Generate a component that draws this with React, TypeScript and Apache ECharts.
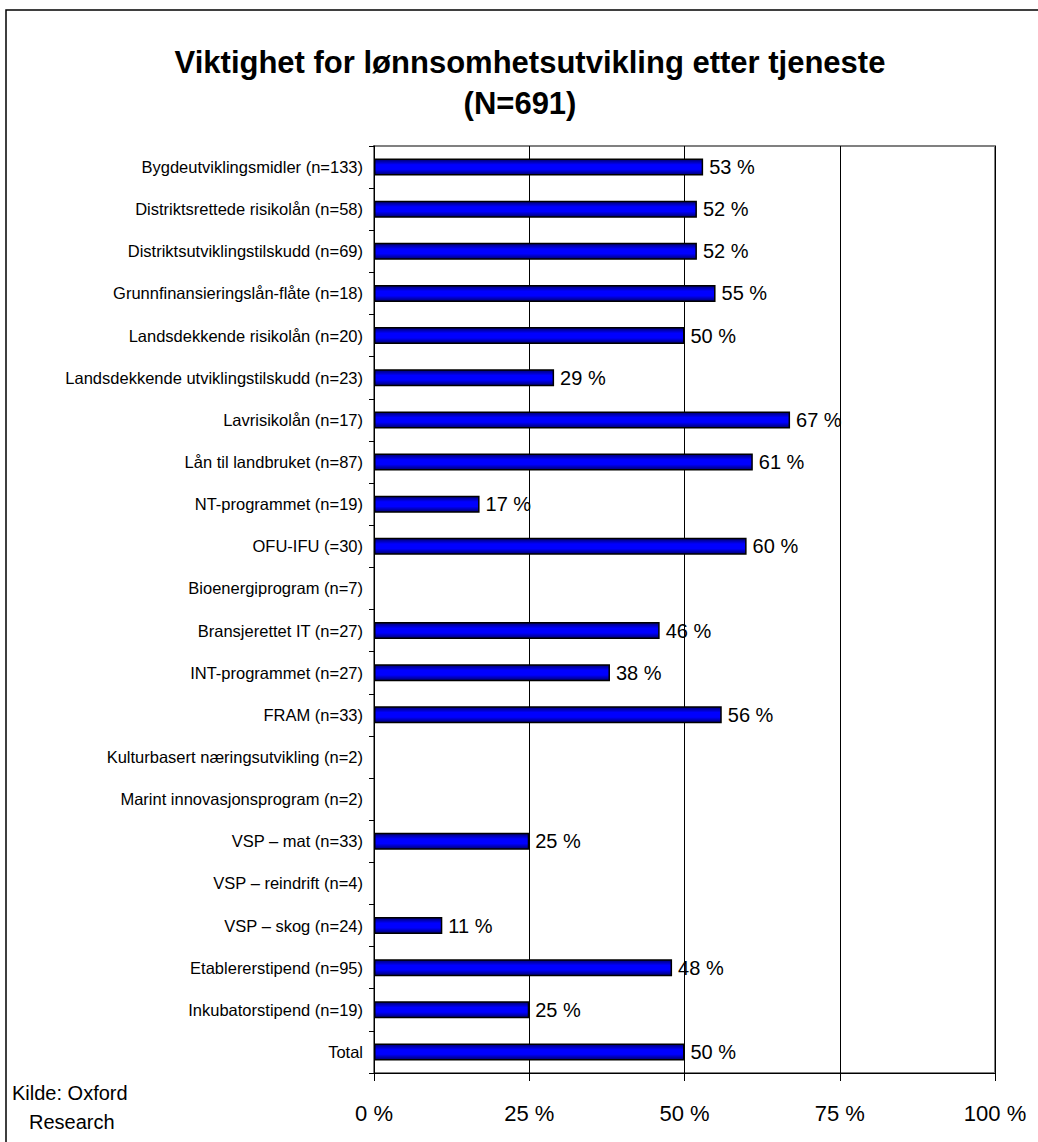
import React, { useEffect, useRef } from "react";
import * as echarts from "echarts";

const titleLines = ["Viktighet for lønnsomhetsutvikling etter tjeneste", "(N=691)"];
const sourceNote = ["Kilde: Oxford", "Research"];

const categories = [
  "Bygdeutviklingsmidler (n=133)",
  "Distriktsrettede risikolån (n=58)",
  "Distriktsutviklingstilskudd (n=69)",
  "Grunnfinansieringslån-flåte (n=18)",
  "Landsdekkende risikolån (n=20)",
  "Landsdekkende utviklingstilskudd (n=23)",
  "Lavrisikolån (n=17)",
  "Lån til landbruket (n=87)",
  "NT-programmet (n=19)",
  "OFU-IFU (=30)",
  "Bioenergiprogram (n=7)",
  "Bransjerettet IT (n=27)",
  "INT-programmet (n=27)",
  "FRAM (n=33)",
  "Kulturbasert næringsutvikling (n=2)",
  "Marint innovasjonsprogram (n=2)",
  "VSP – mat (n=33)",
  "VSP – reindrift (n=4)",
  "VSP – skog (n=24)",
  "Etablererstipend (n=95)",
  "Inkubatorstipend (n=19)",
  "Total",
];

const values: (number | null)[] = [
  53, 52, 52, 55, 50, 29, 67, 61, 17, 60, null, 46, 38, 56, null, null, 25, null, 11, 48, 25, 50,
];

const xTicks = [0, 25, 50, 75, 100];

export default function App() {
  const ref = useRef<HTMLDivElement>(null);
  useEffect(() => {
    if (!ref.current) return;
    const chart = echarts.init(ref.current, null, { renderer: "svg" });
    const font = "'Liberation Sans', Arial, sans-serif";
    chart.setOption({
      animation: false,
      backgroundColor: "#ffffff",
      textStyle: { fontFamily: font },
      grid: {
        left: 374,
        top: 146,
        width: 621,
        height: 927,
        show: true,
        borderColor: "#808080",
        borderWidth: 2,
        backgroundColor: "transparent",
      },
      xAxis: {
        type: "value",
        min: xTicks[0],
        max: xTicks[xTicks.length - 1],
        interval: 25,
        axisLine: { show: true, lineStyle: { color: "#000", width: 1 } },
        axisTick: { show: true, length: 8, inside: false, lineStyle: { color: "#000" } },
        axisLabel: {
          formatter: (v: number) => `${v} %`,
          fontSize: 22,
          color: "#000",
          margin: 29,
          fontFamily: font,
        },
        splitLine: { show: true, lineStyle: { color: "#000", width: 1 } },
      },
      yAxis: {
        type: "category",
        data: categories,
        inverse: true,
        axisLine: { show: true, lineStyle: { color: "#000", width: 1 } },
        axisTick: { show: true, length: 5, alignWithLabel: false, lineStyle: { color: "#000" } },
        axisLabel: { fontSize: 16.5, color: "#000", margin: 11, fontFamily: font },
        splitLine: { show: false },
      },
      series: [
        {
          type: "bar",
          data: values.map((v) => (v === null ? "-" : v)),
          barWidth: 17,
          itemStyle: {
            color: new echarts.graphic.LinearGradient(0, 0, 0, 1, [
              { offset: 0, color: "#000070" },
              { offset: 0.35, color: "#0000ff" },
              { offset: 0.65, color: "#0000ff" },
              { offset: 1, color: "#000070" },
            ]),
            borderColor: "#000",
            borderWidth: 1.5,
          },
          label: {
            show: true,
            position: "right",
            distance: 6,
            formatter: (p: any) => `${p.value} %`,
            fontSize: 20,
            color: "#000",
            fontFamily: font,
          },
        },
      ],
      graphic: [
        {
          type: "rect",
          shape: { x: 6, y: 10, width: 1200, height: 1300 },
          style: { fill: "none", stroke: "#000", lineWidth: 1.5 },
          silent: true,
        },
        {
          type: "text",
          x: 530,
          y: 62,
          style: {
            text: titleLines[0],
            font: `bold 31px ${font}`,
            fill: "#000",
            textAlign: "center",
            textVerticalAlign: "middle",
          },
        },
        {
          type: "text",
          x: 520,
          y: 103,
          style: {
            text: titleLines[1],
            font: `bold 31px ${font}`,
            fill: "#000",
            textAlign: "center",
            textVerticalAlign: "middle",
          },
        },
        {
          type: "text",
          x: 12,
          y: 1093,
          style: {
            text: sourceNote[0],
            font: `20px ${font}`,
            fill: "#000",
            textAlign: "left",
            textVerticalAlign: "middle",
          },
        },
        {
          type: "text",
          x: 29,
          y: 1122,
          style: {
            text: sourceNote[1],
            font: `20px ${font}`,
            fill: "#000",
            textAlign: "left",
            textVerticalAlign: "middle",
          },
        },
      ],
    });
    return () => chart.dispose();
  }, []);
  return (
    <div
      ref={ref}
      style={{ position: "absolute", left: 0, top: 0, width: 1038, height: 1142 }}
    />
  );
}
